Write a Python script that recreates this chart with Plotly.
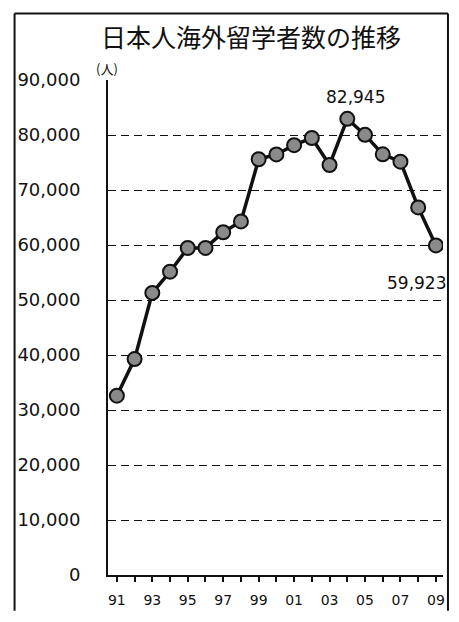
import plotly.graph_objects as go

years = ["91","92","93","94","95","96","97","98","99","00","01","02","03","04","05","06","07","08","09"]
students = [32609, 39258, 51295, 55145, 59460, 59468, 62324, 64284, 75586, 76464,
            78151, 79455, 74551, 82945, 80023, 76492, 75156, 66833, 59923]
tick_labels = [y if i % 2 == 0 else "" for i, y in enumerate(years)]
y_ticks = [0, 10000, 20000, 30000, 40000, 50000, 60000, 70000, 80000, 90000]
title_text = "日本人海外留学者数の推移"
unit_text = "(人)"

xi = list(range(len(years)))

# page has an 8px body margin: figure drawn at offset (8, 8)
OFF = 8
W, H = 459 - 2 * OFF, 622 - 2 * OFF
L, R, T, B = 108 - OFF, 445 - OFF, 80 - OFF, 578 - OFF
pw, ph = R - L, B - T

def px(x):
    return (x - OFF - L) / pw

def py(y):
    return (B - (y - OFF)) / ph

fig = go.Figure()
fig.add_trace(go.Scatter(
    x=xi, y=students, mode="lines+markers",
    line=dict(color="#111", width=3.5),
    marker=dict(size=14, color="#8a8a8a", line=dict(color="#111", width=2)),
    hoverinfo="skip", showlegend=False,
))

imax = students.index(max(students))
fig.add_annotation(x=imax, y=students[imax], text=f"{students[imax]:,}", showarrow=False,
                   xanchor="center", yanchor="middle",
                   yshift=22, xshift=8, font=dict(size=17, color="#111", family="DejaVu Sans"))
fig.add_annotation(x=xi[-1], y=students[-1], text=f"{students[-1]:,}", showarrow=False,
                   xanchor="center", yanchor="middle",
                   yshift=-38, xshift=-19, font=dict(size=17, color="#111", family="DejaVu Sans"))

fig.add_annotation(xref="paper", yref="paper", x=px(252), y=py(36), text=title_text,
                   xanchor="center", yanchor="middle",
                   showarrow=False, font=dict(size=25, color="#111", family="Noto Sans CJK JP"))
fig.add_annotation(xref="paper", yref="paper", x=px(107), y=py(68), text=unit_text,
                   xanchor="center", yanchor="middle",
                   showarrow=False, font=dict(size=13, color="#111", family="Noto Sans CJK JP"))

# outer frame as separate lines
fx0, fx1, fy0, fy1 = px(14), px(450), py(614), py(13)
frame = dict(color="#111", width=2)
for (a, b, c, d) in [(fx0, fy1, fx1, fy1), (fx0, fy0, fx0, fy1), (fx1, fy0, fx1, fy1)]:
    fig.add_shape(type="line", xref="paper", yref="paper", x0=a, y0=b, x1=c, y1=d,
                  line=frame, layer="above")

fig.update_layout(
    width=W, height=H,
    margin=dict(l=L, r=W - R, t=T, b=H - B, pad=0),
    paper_bgcolor="white", plot_bgcolor="white",
    font=dict(family="DejaVu Sans", color="#111"),
)
fig.update_xaxes(
    range=[-0.5, 18.4], tickmode="array", tickvals=xi, ticktext=tick_labels,
    ticks="outside", ticklen=5, tickcolor="#111", tickwidth=1.5,
    showline=True, linecolor="#111", linewidth=2, showgrid=False, zeroline=False,
    tickfont=dict(size=14, family="DejaVu Sans", color="#111"),
    ticklabelstandoff=6,
    fixedrange=True,
)
fig.update_yaxes(
    range=[0, 90000], tickmode="array", tickvals=y_ticks,
    ticktext=[f"{v:,}" for v in y_ticks],
    ticks="", showline=True, linecolor="#111", linewidth=2,
    showgrid=True, gridcolor="#111", gridwidth=1.2, griddash="8px,5px", zeroline=False,
    tickfont=dict(size=18, family="DejaVu Sans", color="#111"),
    ticklabelstandoff=22,
    fixedrange=True,
)

fig.write_html("out.html")
